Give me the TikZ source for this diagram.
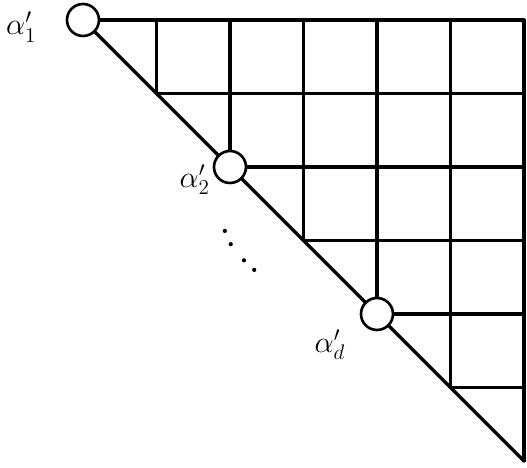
\documentclass[tikz,border=0pt]{standalone}
\usepackage{tikz}
\tikzset{
  tri grid/.style={
    x=1.47cm,
    y=1.47cm,
    line width=1.8pt,
    line cap=round,
    line join=round
  },
  tri site/.style={
    circle,
    draw,
    fill=white,
    line width=1.5pt,
    minimum size=0.64cm,
    inner sep=0pt
  },
  tri label/.style={
    font=\LARGE,
    inner sep=1pt
  },
  tri dot/.style={
    radius=1.2pt
  }
}

\begin{document}
\begin{tikzpicture}[tri grid]

  \useasboundingbox (-1.129,0.272) rectangle (6.041,-6.095);

  \node[tri site] (a1) at (0,0) {};
  \node[tri site] (a2) at (2,-2) {};
  \node[tri site] (ad) at (4,-4) {};
  \coordinate (tr) at (6,0);
  \coordinate (br) at (6,-6);

  \draw[line width=2pt] (a1) -- (a2) -- (ad) -- (br);
  \draw (a1) -- (tr) -- (br);

  \foreach \k in {1,3,5} {
    \draw (\k,0) -- (\k,-\k);
    \draw (\k,-\k) -- (6,-\k);
  }
  \draw (2,0) -- (a2.north);
  \draw (a2.east) -- (6,-2);
  \draw (4,0) -- (ad.north);
  \draw (ad.east) -- (6,-4);

  \node[tri label] (l1) at (-0.84,-0.1) {$\alpha'_1$};
  \node[tri label] (l2) at (1.52,-2.17) {$\alpha'_2$};
  \node[tri label] (ld) at (3.36,-4.42) {$\alpha'_d$};

  \foreach \p in {(1.93,-2.87),(2.01,-3.05),(2.19,-3.27),(2.33,-3.40)}
    \fill \p circle[tri dot];

\end{tikzpicture}
\end{document}
